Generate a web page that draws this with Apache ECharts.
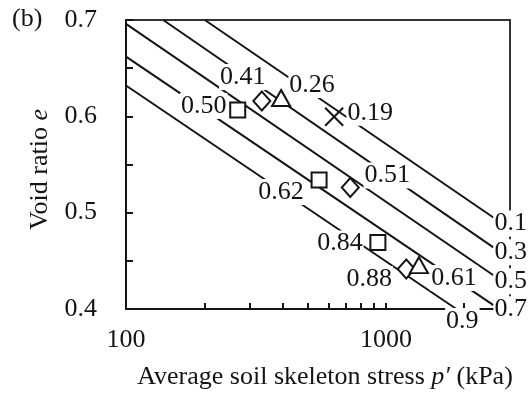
<!DOCTYPE html>
<html>
<head>
<meta charset="utf-8">
<script src="https://cdn.jsdelivr.net/npm/echarts@6/dist/echarts.min.js"></script>
<style>
  html, body { margin: 0; padding: 0; background: #fff; }
  #chart { width: 528px; height: 400px; }
</style>
</head>
<body>
<div id="chart"></div>
<script>
// Reference lines (straight in semi-log space), labelled at their right end
const lineLabels = ['0.1', '0.3', '0.5', '0.7', '0.9'];
const lineStart = [[201, 0.700], [139, 0.700], [100, 0.696], [100, 0.662], [100, 0.632]];
const lineEnd   = [[2590, 0.495], [2590, 0.464], [2590, 0.435], [2590, 0.404], [1865, 0.400]];

// Measured states: average skeleton stress p' (kPa), void ratio e, annotated value
const squareP = [269, 553, 931];
const squareE = [0.6065, 0.534, 0.469];
const squareText = ['0.50', '0.62', '0.84'];

const diamondP = [333, 729, 1197];
const diamondE = [0.616, 0.526, 0.4415];
const diamondText = ['0.41', '0.51', '0.88'];

const triangleP = [395, 1339];
const triangleE = [0.619, 0.4456];
const triangleText = ['0.26', '0.61'];

const crossP = [632];
const crossE = [0.5996];
const crossText = ['0.19'];

// Axis ticks and labels
const xTicks = [100, 200, 300, 400, 500, 600, 700, 800, 900, 1000, 2000];
const xTickLabels = [100, 1000];
const yTicks = [0.4, 0.45, 0.5, 0.55, 0.6, 0.65, 0.7];
const yTickLabels = [0.4, 0.5, 0.6, 0.7];

const FONT = 'Liberation Serif';
const INK = '#141414';
const textBase = { fontFamily: FONT, fontSize: 26, color: INK };
const labelBox = Object.assign({}, textBase, { backgroundColor: '#fff', padding: [0, 1], opacity: 1 });

// Placement of the right-end labels of the reference lines
const lineLabelLayout = [
  { align: 'left', offset: [0, 6] },
  { align: 'left', offset: [0, 5] },
  { align: 'left', offset: [0, 6] },
  { align: 'left', offset: [0, 4] },
  { align: 'center', offset: [6, 12] }
];

// Offsets of each annotation relative to its marker centre
const squareOffsets = [[-34, -4], [-38, 12], [-38, 1]];
const diamondOffsets = [[-19, -24], [37, -12], [-37, 10]];
const triangleOffsets = [[31, -13], [35, 13]];
const crossOffsets = [[36, -4]];

const lineSeries = lineLabels.map((name, i) => ({
  type: 'line',
  name: name,
  data: [lineStart[i], lineEnd[i]],
  symbol: 'none',
  showSymbol: false,
  silent: true,
  z: 2,
  lineStyle: { color: INK, width: 2 },
  endLabel: Object.assign({ show: true, formatter: name, distance: 0, verticalAlign: 'middle' },
                          labelBox, lineLabelLayout[i])
}));

function markerSeries(ps, es, texts, offsets, symbol, size, fill) {
  return {
    type: 'scatter',
    symbol: symbol,
    symbolSize: size,
    z: 5,
    silent: true,
    itemStyle: { color: fill, borderColor: INK, borderWidth: 2, opacity: 1 },
    data: ps.map((p, i) => ({ value: [p, es[i]], label: { offset: offsets[i] } })),
    label: Object.assign({ show: true, position: 'inside',
                           formatter: (d) => texts[d.dataIndex] }, labelBox)
  };
}

const chart = echarts.init(document.getElementById('chart'), null, { renderer: 'canvas' });

chart.setOption({
  animation: false,
  backgroundColor: '#fff',
  title: {
    text: '(b)',
    left: 12, top: 6, padding: 0,
    textStyle: Object.assign({ fontWeight: 'normal' }, textBase)
  },
  grid: {
    left: 126, top: 20, right: 18, bottom: 91,
    show: true, borderColor: '#333', borderWidth: 2, backgroundColor: 'transparent'
  },
  xAxis: {
    type: 'log',
    logBase: 10,
    min: 100,
    max: 3000,
    name: '{n|Average soil skeleton stress }{i|p′}{n| (kPa)}',
    nameLocation: 'middle',
    nameGap: 55,
    nameTextStyle: {
      padding: [0, 0, 0, 14],
      rich: {
        n: { fontFamily: FONT, fontSize: 26, color: INK },
        i: { fontFamily: FONT, fontSize: 26, color: INK, fontStyle: 'italic' }
      }
    },
    axisLine: { show: true, lineStyle: { color: INK, width: 2 } },
    axisTick: { show: true, inside: true, length: 6, customValues: xTicks,
                lineStyle: { color: INK, width: 2 } },
    minorTick: { show: false },
    axisLabel: Object.assign({ customValues: xTickLabels, margin: 18,
                               formatter: (v) => String(Math.round(v)) }, textBase),
    splitLine: { show: false }
  },
  yAxis: {
    type: 'value',
    min: 0.4,
    max: 0.7,
    interval: 0.1,
    name: '{n|Void ratio }{i|e}',
    nameLocation: 'middle',
    nameGap: 62,
    nameTextStyle: {
      padding: [0, 10, 0, 0],
      rich: {
        n: { fontFamily: FONT, fontSize: 26, color: INK },
        i: { fontFamily: FONT, fontSize: 26, color: INK, fontStyle: 'italic' }
      }
    },
    axisLine: { show: true, lineStyle: { color: INK, width: 2 } },
    axisTick: { show: true, inside: true, length: 7, customValues: yTicks,
                lineStyle: { color: INK, width: 2 } },
    axisLabel: Object.assign({ customValues: yTickLabels, margin: 29,
                               formatter: (v) => v.toFixed(1) }, textBase),
    splitLine: { show: false }
  },
  series: lineSeries.concat([
    markerSeries(squareP, squareE, squareText, squareOffsets, 'rect', 15, '#fff'),
    markerSeries(diamondP, diamondE, diamondText, diamondOffsets, 'diamond', [17, 19], '#fff'),
    markerSeries(triangleP, triangleE, triangleText, triangleOffsets, 'triangle', [18, 16], '#fff'),
    markerSeries(crossP, crossE, crossText, crossOffsets,
                 'path://M0,0L10,10M10,0L0,10', 18, 'transparent')
  ])
});
</script>
</body>
</html>
